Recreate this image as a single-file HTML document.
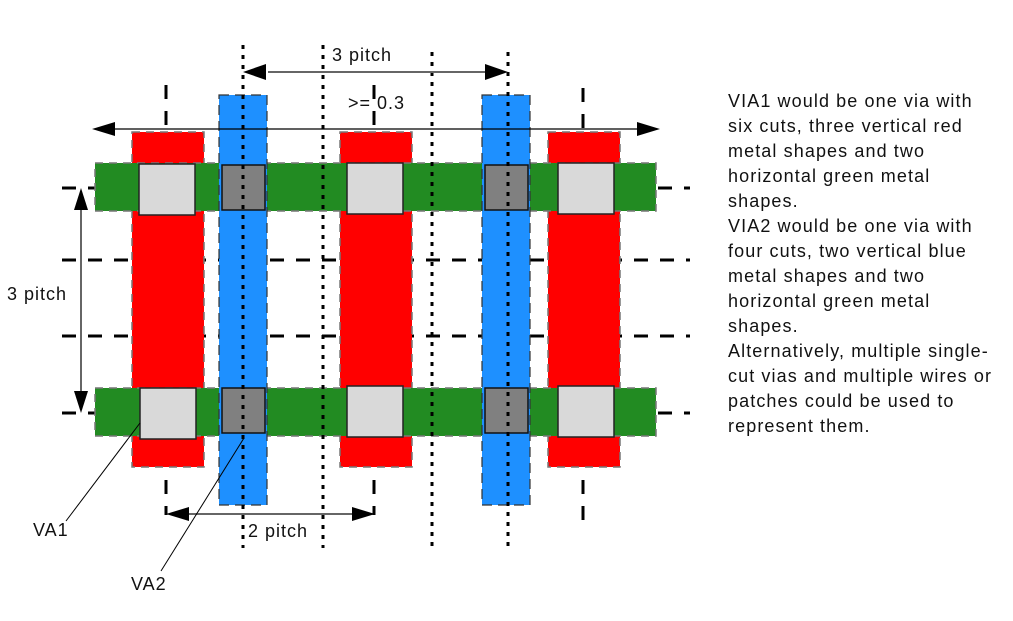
<!DOCTYPE html>
<html><head><meta charset="utf-8"><style>
html,body{margin:0;padding:0;background:#fff;}
svg{display:block;}
text{font-family:"Liberation Sans",sans-serif;fill:#111;}
</style></head><body>
<svg width="1013" height="621" viewBox="0 0 1013 621" xmlns="http://www.w3.org/2000/svg">
<!-- dashed black guide lines -->
<g stroke="#000" stroke-width="3" stroke-dasharray="14,12" fill="none">
<line x1="62" y1="188" x2="95" y2="188"/>
<line x1="658" y1="188" x2="690" y2="188"/>
<line x1="62" y1="260" x2="690" y2="260"/>
<line x1="62" y1="336" x2="690" y2="336"/>
<line x1="62" y1="413" x2="95" y2="413"/>
<line x1="658" y1="413" x2="690" y2="413"/>
<line x1="166" y1="85" x2="166" y2="130"/>
<line x1="374" y1="85" x2="374" y2="130"/>
<line x1="583" y1="88" x2="583" y2="130"/>
<line x1="166" y1="480" x2="166" y2="515"/>
<line x1="374" y1="480" x2="374" y2="515"/>
<line x1="583" y1="480" x2="583" y2="520"/>
</g>
<!-- red -->
<g fill="#ff0000" stroke="#777" stroke-width="1.5" stroke-dasharray="8,6">
<rect x="132" y="132" width="72" height="335"/>
<rect x="340" y="132" width="72" height="335"/>
<rect x="548" y="132" width="72" height="335"/>
</g>
<!-- green -->
<g fill="#228b22" stroke="#777" stroke-width="1.5" stroke-dasharray="8,6">
<rect x="95" y="163" width="561" height="48"/>
<rect x="95" y="388" width="561" height="48"/>
</g>
<!-- blue -->
<g fill="#1e90ff" stroke="#333" stroke-width="1.2" stroke-dasharray="10,6">
<rect x="219" y="95" width="48" height="410"/>
<rect x="482" y="95" width="48" height="410"/>
</g>
<!-- cuts -->
<g fill="#d9d9d9" stroke="#222" stroke-width="1.5">
<rect x="139" y="164" width="56" height="51"/>
<rect x="347" y="163" width="56" height="51"/>
<rect x="558" y="163" width="56" height="51"/>
<rect x="140" y="388" width="56" height="51"/>
<rect x="347" y="386" width="56" height="51"/>
<rect x="558" y="386" width="56" height="51"/>
</g>
<g fill="#808080" stroke="#111" stroke-width="1.5">
<rect x="222" y="165" width="43" height="45"/>
<rect x="222" y="388" width="43" height="45"/>
<rect x="485" y="165" width="43" height="45"/>
<rect x="485" y="388" width="43" height="45"/>
</g>
<!-- dotted lines -->
<g stroke="#000" stroke-width="3" stroke-dasharray="4,6" fill="none">
<line x1="243" y1="45" x2="243" y2="548"/>
<line x1="323" y1="45" x2="323" y2="548"/>
<line x1="432" y1="52" x2="432" y2="550"/>
<line x1="508" y1="52" x2="508" y2="550"/>
</g>
<!-- arrows -->
<line x1="268" y1="72" x2="486" y2="72" stroke="#666" stroke-width="2"/>
<path d="M243,72 L266,64 L266,80 Z" fill="#000"/>
<path d="M508,72 L485,64 L485,80 Z" fill="#000"/>
<line x1="110" y1="129" x2="640" y2="129" stroke="#000" stroke-width="1.2"/>
<path d="M92,129 L115,122 L115,136 Z" fill="#000"/>
<path d="M660,129 L637,122 L637,136 Z" fill="#000"/>
<line x1="81" y1="208" x2="81" y2="395" stroke="#000" stroke-width="1.2"/>
<path d="M81,188 L74,210 L88,210 Z" fill="#000"/>
<path d="M81,413 L74,391 L88,391 Z" fill="#000"/>
<line x1="186" y1="514" x2="356" y2="514" stroke="#666" stroke-width="2"/>
<path d="M166,514 L189,507 L189,521 Z" fill="#000"/>
<path d="M375,514 L352,507 L352,521 Z" fill="#000"/>
<!-- leaders -->
<line x1="140" y1="423" x2="66" y2="521" stroke="#000" stroke-width="1"/>
<line x1="244" y1="438" x2="161" y2="571" stroke="#000" stroke-width="1"/>
<!-- labels -->
<g font-size="18" letter-spacing="1">
<text x="332" y="61">3 pitch</text>
<text x="348" y="109">&gt;= 0.3</text>
<text x="7" y="300">3 pitch</text>
<text x="248" y="537">2 pitch</text>
<text x="33" y="536">VA1</text>
<text x="131" y="590">VA2</text>
</g>
<g font-size="18" letter-spacing="1.1">
<text x="728" y="107">VIA1 would be one via with</text>
<text x="728" y="132">six cuts, three vertical red</text>
<text x="728" y="157">metal shapes and two</text>
<text x="728" y="182">horizontal green metal</text>
<text x="728" y="207">shapes.</text>
<text x="728" y="232">VIA2 would be one via with</text>
<text x="728" y="257">four cuts, two vertical blue</text>
<text x="728" y="282">metal shapes and two</text>
<text x="728" y="307">horizontal green metal</text>
<text x="728" y="332">shapes.</text>
<text x="728" y="357">Alternatively, multiple single-</text>
<text x="728" y="382">cut vias and multiple wires or</text>
<text x="728" y="407">patches could be used to</text>
<text x="728" y="432">represent them.</text>
</g>
</svg>
</body></html>
